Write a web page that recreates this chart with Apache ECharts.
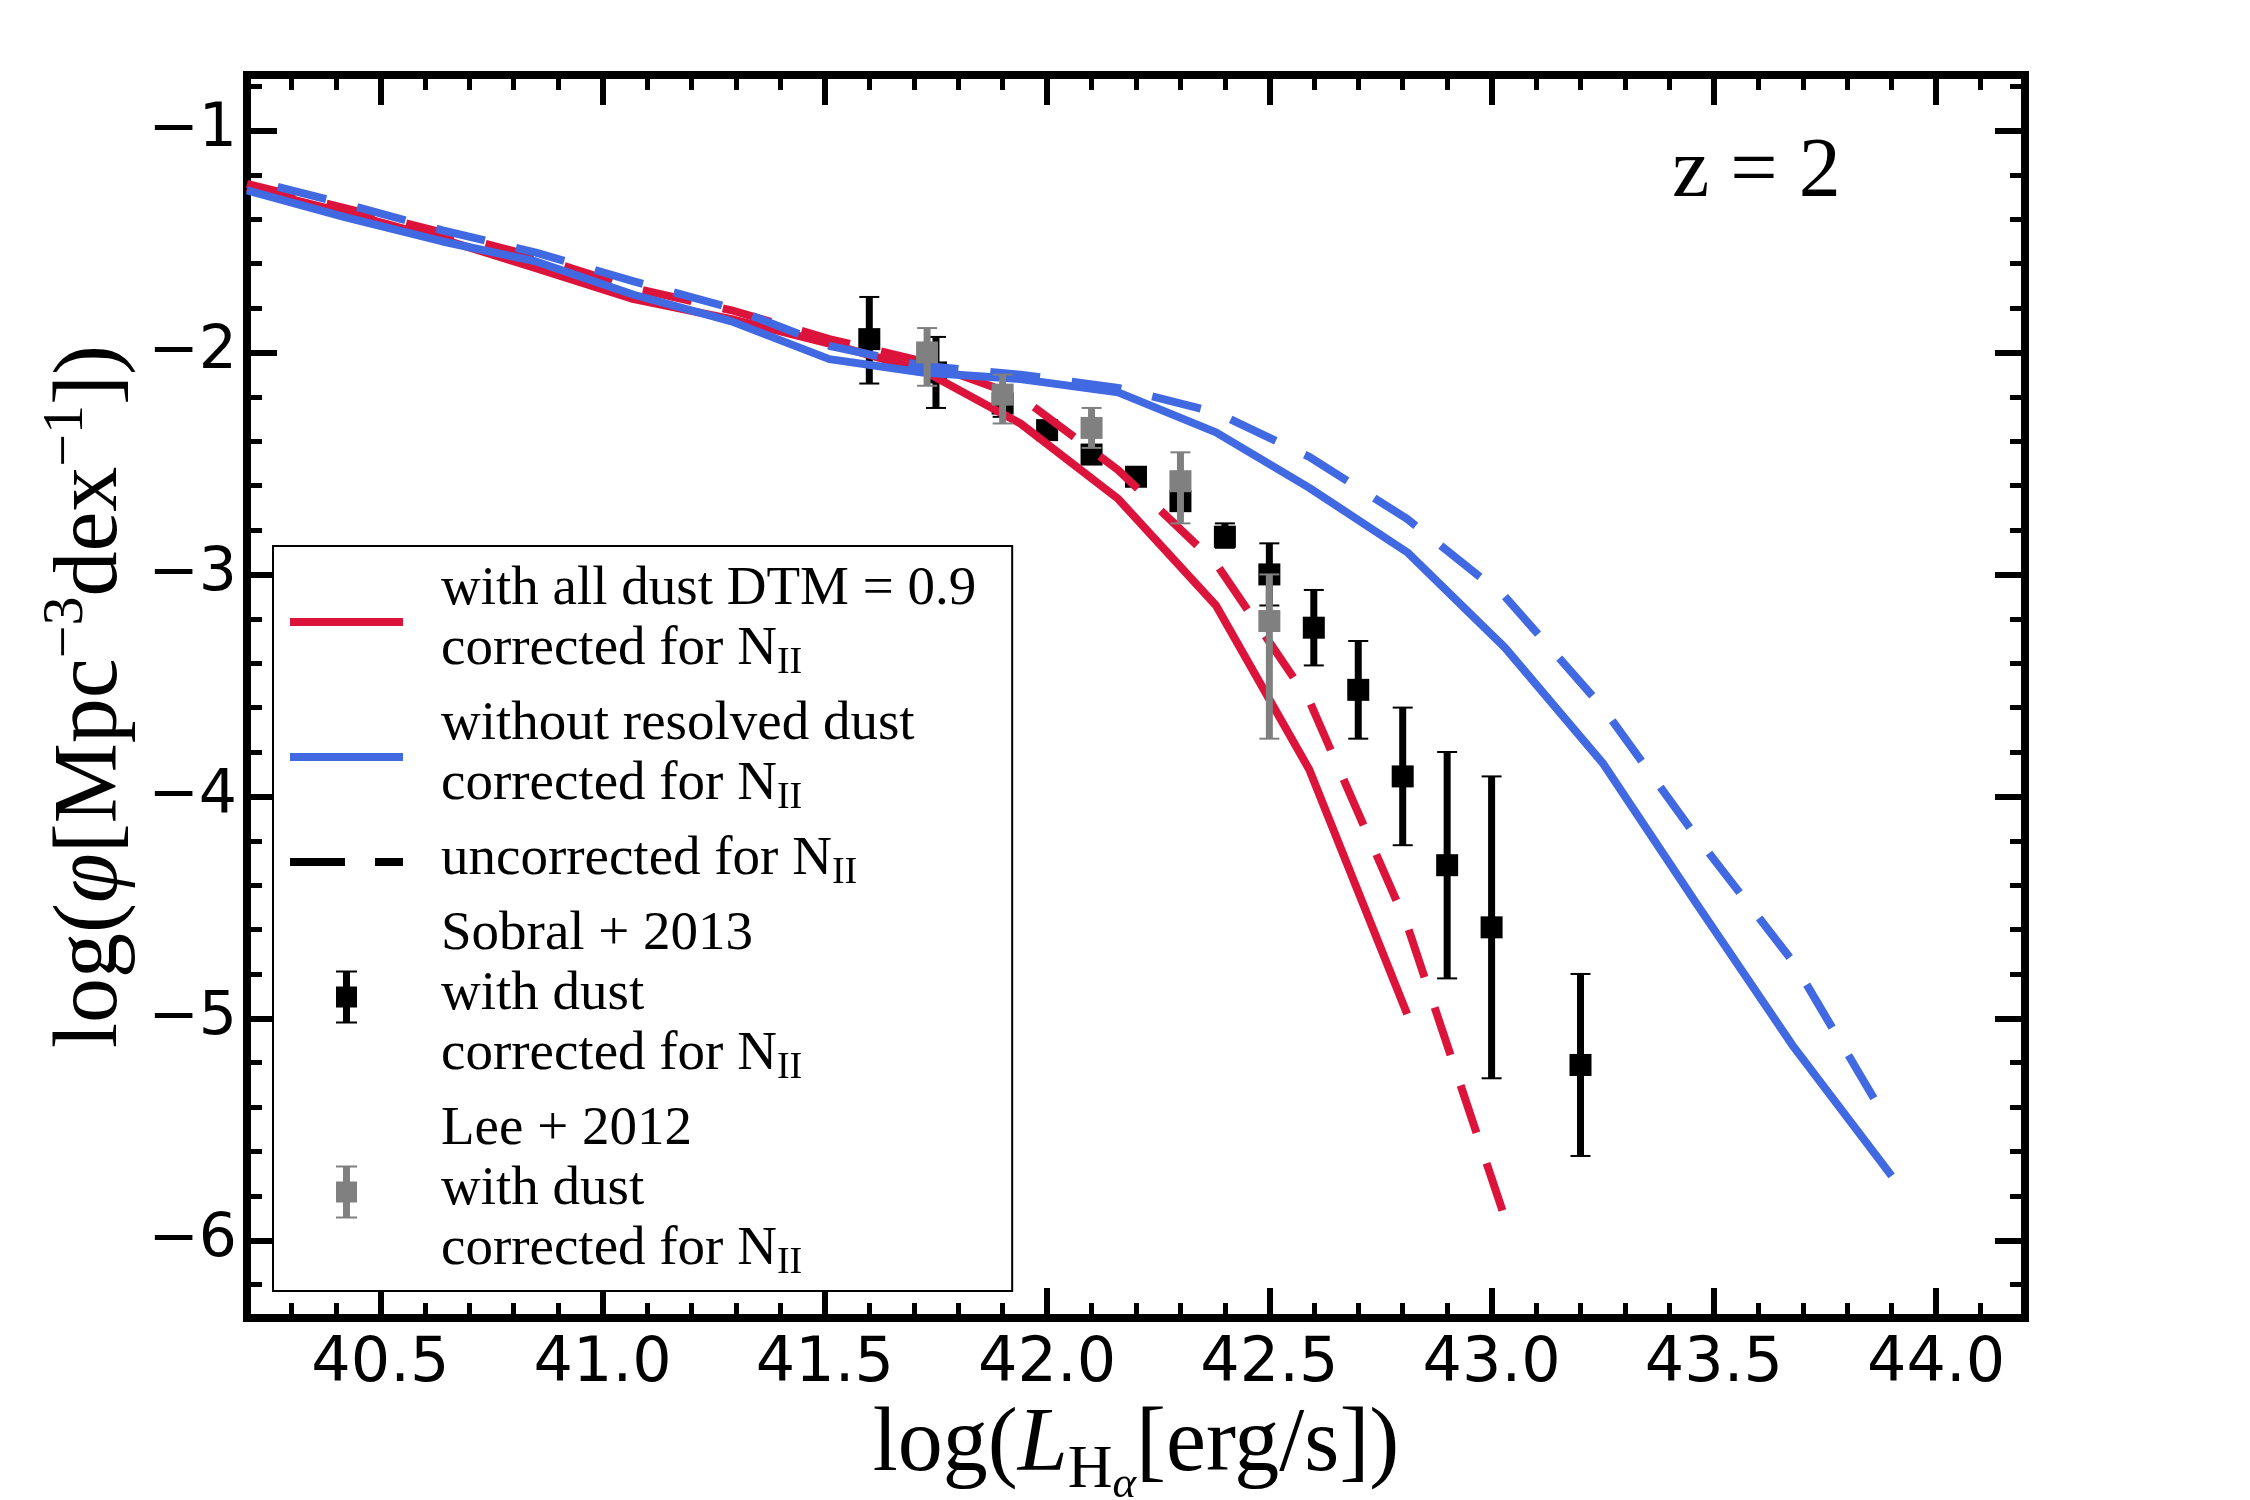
<!DOCTYPE html>
<html>
<head>
<meta charset="utf-8">
<script src="https://cdn.jsdelivr.net/npm/echarts@6.0.0/dist/echarts.min.js"></script>
<style>
  html, body { margin: 0; padding: 0; background: #fff; }
  #chart { width: 2250px; height: 1500px; }
</style>
</head>
<body>
<div id="chart"></div>
<script>
// luminosity bins of the model curves
const xBins = [40.20, 40.42, 40.64, 40.85, 41.07, 41.29, 41.51, 41.72, 41.94, 42.16, 42.38, 42.59, 42.81, 43.03, 43.25, 43.46, 43.68, 43.90];
const blueDashedX = [40.20, 40.42, 40.64, 40.85, 41.07, 41.29, 41.51, 41.72, 41.94, 42.16, 42.38, 42.59, 42.81, 43.03, 43.25, 43.46, 43.68, 43.86];

const redSolid = [-1.26, -1.37, -1.49, -1.62, -1.76, -1.85, -1.96, -2.08, -2.32, -2.66, -3.14, -3.88, -4.98];
const redDashed = [-1.24, -1.35, -1.46, -1.57, -1.71, -1.81, -1.94, -2.04, -2.20, -2.53, -2.95, -3.57, -4.58, -5.90];
const blueSolid = [-1.27, -1.39, -1.50, -1.59, -1.74, -1.86, -2.03, -2.09, -2.12, -2.18, -2.36, -2.61, -2.90, -3.33, -3.85, -4.48, -5.13, -5.71];
const blueDashed = [-1.22, -1.33, -1.45, -1.55, -1.68, -1.80, -1.97, -2.06, -2.10, -2.16, -2.27, -2.47, -2.75, -3.10, -3.60, -4.18, -4.75, -5.36];

// Sobral+ 2013
const sobralX = [41.6, 41.75, 41.9, 42.0, 42.1, 42.2, 42.3, 42.4, 42.5, 42.6, 42.7, 42.8, 42.9, 43.0, 43.2];
const sobralY = [-1.94, -2.09, -2.23, -2.35, -2.46, -2.56, -2.67, -2.83, -3.00, -3.24, -3.52, -3.91, -4.31, -4.59, -5.21];
const sobralHi = [-1.75, -1.93, -2.18, -2.32, -2.43, -2.53, -2.63, -2.77, -2.86, -3.07, -3.30, -3.60, -3.80, -3.91, -4.80];
const sobralLo = [-2.14, -2.25, -2.29, -2.38, -2.49, -2.59, -2.71, -2.88, -3.14, -3.41, -3.74, -4.22, -4.82, -5.27, -5.62];

// Lee+ 2012
const leeX = [41.73, 41.9, 42.1, 42.3, 42.5];
const leeY = [-2.00, -2.19, -2.34, -2.58, -3.21];
const leeHi = [-1.89, -2.10, -2.25, -2.45, -3.00];
const leeLo = [-2.15, -2.32, -2.43, -2.77, -3.74];

// axes
const xMin = 40.2, xMax = 44.2, yMin = -6.35, yMax = -0.75;
const xMajor = [40.5, 41.0, 41.5, 42.0, 42.5, 43.0, 43.5, 44.0];
const yMajor = [-6, -5, -4, -3, -2, -1];
const xMinor = [];
for (let k = 402; k <= 442; k++) xMinor.push(k / 10);
const yMinor = [];
for (let k = -31; k <= -4; k++) yMinor.push(k / 5);

const legendNames = ['dtm', 'nodust', 'uncorr', 'sobral', 'lee'];
const legendLabels = [
    '{t|with all dust DTM = 0.9}\n{t|corrected for N}{s|II}',
    '{t|without resolved dust}\n{t|corrected for N}{s|II}',
    '{t|uncorrected for N}{s|II}',
    '{t|Sobral + 2013}\n{t|with dust}\n{t|corrected for N}{s|II}',
    '{t|Lee + 2012}\n{t|with dust}\n{t|corrected for N}{s|II}'
];

const RED = '#dc143c';
const BLUE = '#4169e1';
const GREY = '#808080';
const SERIF = 'Liberation Serif';
const DASH = [50, 32];

const pairs = (xs, ys) => ys.map((y, i) => [xs[i], y]);

function errRender(color) {
    return function (params, api) {
        const x = api.value(0);
        const c = api.coord([x, api.value(1)]);
        const top = api.coord([x, api.value(2)]);
        const bot = api.coord([x, api.value(3)]);
        return {
            type: 'group',
            children: [
                { type: 'line', shape: { x1: c[0], y1: top[1], x2: c[0], y2: bot[1] }, style: { stroke: color, lineWidth: 7 } },
                { type: 'line', shape: { x1: c[0] - 10, y1: top[1], x2: c[0] + 10, y2: top[1] }, style: { stroke: color, lineWidth: 2 } },
                { type: 'line', shape: { x1: c[0] - 10, y1: bot[1], x2: c[0] + 10, y2: bot[1] }, style: { stroke: color, lineWidth: 2 } },
                { type: 'rect', shape: { x: c[0] - 11, y: c[1] - 11, width: 22, height: 22 }, style: { fill: color } }
            ]
        };
    };
}

const tickLabel = { fontFamily: 'DejaVu Sans', fontSize: 62, color: '#000' };

function xAx(position, ticks, len, width, extra) {
    return Object.assign({
        type: 'value', min: xMin, max: xMax, position: position,
        axisLine: { show: true, lineStyle: { color: '#000', width: 8, cap: 'square' } },
        axisTick: { show: true, inside: true, length: len, customValues: ticks, lineStyle: { color: '#000', width: width } },
        axisLabel: { show: false },
        splitLine: { show: false }
    }, extra || {});
}
function yAx(position, ticks, len, width, extra) {
    return Object.assign({
        type: 'value', min: yMin, max: yMax, position: position,
        axisLine: { show: true, lineStyle: { color: '#000', width: 8, cap: 'square' } },
        axisTick: { show: true, inside: true, length: len, customValues: ticks, lineStyle: { color: '#000', width: width } },
        axisLabel: { show: false },
        splitLine: { show: false }
    }, extra || {});
}

const chart = echarts.init(document.getElementById('chart'));

const option = {
    animation: false,
    backgroundColor: '#fff',
    grid: { left: 247, right: 225, top: 75, bottom: 182, outerBoundsMode: 'none', containLabel: false },
    xAxis: [
        xAx('bottom', xMajor, 30, 6, {
            axisLabel: Object.assign({ show: true, margin: 16, customValues: xMajor, formatter: v => v.toFixed(1) }, tickLabel),
            name: '{n|log(}{i|L}{s|H}{ss|α}{n|[erg/s])}',
            nameLocation: 'middle',
            nameGap: 66,
            nameTextStyle: {
                color: '#000',
                rich: {
                    n: { fontFamily: SERIF, fontSize: 90, lineHeight: 100, verticalAlign: 'top' },
                    i: { fontFamily: SERIF, fontSize: 90, fontStyle: 'italic', lineHeight: 100, verticalAlign: 'top' },
                    s: { fontFamily: SERIF, fontSize: 62, lineHeight: 100, padding: [39, 0, 0, 0], verticalAlign: 'top' },
                    ss: { fontFamily: SERIF, fontSize: 45, fontStyle: 'italic', lineHeight: 100, padding: [62, 0, 0, 0], verticalAlign: 'top' }
                }
            }
        }),
        xAx('bottom', xMinor, 15, 5),
        xAx('top', xMajor, 30, 6),
        xAx('top', xMinor, 15, 5)
    ],
    yAxis: [
        yAx('left', yMajor, 30, 6, {
            axisLabel: Object.assign({ show: true, margin: 10, customValues: yMajor, formatter: v => (v < 0 ? '\u2212' : '') + Math.abs(v) }, tickLabel, { fontSize: 60 }),
            name: '{n|log(}{i|φ}{n|[Mpc}{p|−3}{n|dex}{p|−1}{n|])}',
            nameLocation: 'middle',
            nameRotate: 90,
            nameGap: 100,
            nameTextStyle: {
                color: '#000',
                rich: {
                    n: { fontFamily: SERIF, fontSize: 90, lineHeight: 120, padding: [20, 0, 0, 0], verticalAlign: 'top' },
                    i: { fontFamily: SERIF, fontSize: 90, fontStyle: 'italic', lineHeight: 120, padding: [20, 0, 0, 0], verticalAlign: 'top' },
                    p: { fontFamily: SERIF, fontSize: 58, lineHeight: 120, padding: [11, 0, 0, 0], verticalAlign: 'top' }
                }
            }
        }),
        yAx('left', yMinor, 15, 5),
        yAx('right', yMajor, 30, 6),
        yAx('right', yMinor, 15, 5)
    ],
    legend: {
        orient: 'vertical',
        left: 273,
        top: 546,
        padding: [16, 36, 9, 17],
        itemGap: 15,
        itemWidth: 113,
        itemHeight: 53,
        selectedMode: false,
        backgroundColor: '#fff',
        borderColor: '#000',
        borderWidth: 2,
        borderRadius: 0,
        itemStyle: { borderWidth: 0 },
        textStyle: {
            color: '#000',
            padding: [0, 0, 0, 33],
            rich: {
                t: { fontFamily: SERIF, fontSize: 55, lineHeight: 60, verticalAlign: 'top' },
                s: { fontFamily: SERIF, fontSize: 38, lineHeight: 60, padding: [22, 0, 0, 0], verticalAlign: 'top' }
            }
        },
        formatter: name => legendLabels[legendNames.indexOf(name)],
        data: [
            { name: 'dtm', icon: 'path://M0,0 H113 V8 H0 Z', itemStyle: { color: RED } },
            { name: 'nodust', icon: 'path://M0,0 H113 V8 H0 Z', itemStyle: { color: BLUE } },
            { name: 'uncorr', icon: 'path://M0,0 H55 V8 H0 Z M85,0 H113 V8 H85 Z', itemStyle: { color: '#000' } },
            { name: 'sobral', icon: 'path://M7,0 H14 V53 H7 Z M0,16 H21 V37 H0 Z M0,0 H21 V2 H0 Z M0,51 H21 V53 H0 Z', itemStyle: { color: '#000' } },
            { name: 'lee', icon: 'path://M7,0 H14 V53 H7 Z M0,16 H21 V37 H0 Z M0,0 H21 V2 H0 Z M0,51 H21 V53 H0 Z', itemStyle: { color: GREY } }
        ]
    },
    graphic: [{
        type: 'text',
        x: 1672,
        y: 174,
        style: { text: 'z = 2', fontFamily: SERIF, fontSize: 84, fill: '#000', align: 'left', verticalAlign: 'middle' }
    }],
    series: [
        { name: 'dtm', type: 'line', data: pairs(xBins, redSolid), showSymbol: false, symbol: 'none', color: RED, lineStyle: { color: RED, width: 8 } },
        { name: 'dtm_unc', type: 'line', data: pairs(xBins, redDashed), showSymbol: false, symbol: 'none', color: RED, lineStyle: { color: RED, width: 8, type: DASH } },
        { name: 'nodust', type: 'line', data: pairs(xBins, blueSolid), showSymbol: false, symbol: 'none', color: BLUE, lineStyle: { color: BLUE, width: 8 } },
        { id: 'nodust_unc', name: 'nodust_unc', type: 'line', data: pairs(blueDashedX, blueDashed), showSymbol: false, symbol: 'none', color: BLUE, lineStyle: { color: BLUE, width: 8, type: DASH } },
        { name: 'uncorr', type: 'line', data: [], showSymbol: false, symbol: 'none', color: '#000', lineStyle: { color: '#000', width: 8, type: DASH } },
        {
            name: 'sobral', type: 'custom', color: '#000',
            renderItem: errRender('#000'),
            encode: { x: 0, y: 1 },
            data: sobralX.map((x, i) => [x, sobralY[i], sobralHi[i], sobralLo[i]]),
            z: 3
        },
        {
            name: 'lee', type: 'custom', color: GREY,
            renderItem: errRender(GREY),
            encode: { x: 0, y: 1 },
            data: leeX.map((x, i) => [x, leeY[i], leeHi[i], leeLo[i]]),
            z: 4
        }
    ]
};

chart.setOption(option);

// shift the dash phase so the blue dashed curve ends on a full dash, as in the original
const bluePx = pairs(blueDashedX, blueDashed).map(p => chart.convertToPixel({ gridIndex: 0 }, p));
let pathLen = 0;
for (let i = 1; i < bluePx.length; i++) {
    pathLen += Math.hypot(bluePx[i][0] - bluePx[i - 1][0], bluePx[i][1] - bluePx[i - 1][1]);
}
const period = DASH[0] + DASH[1];
const offset = (((DASH[0] - pathLen) % period) + period) % period;
chart.setOption({ series: [{ id: 'nodust_unc', lineStyle: { dashOffset: offset } }] });
</script>
</body>
</html>
